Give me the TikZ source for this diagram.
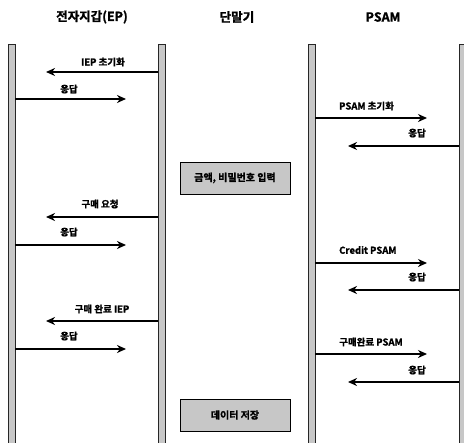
\documentclass[tikz,border=0pt]{standalone}
\usepackage{fontspec}
\setmainfont{Noto Sans CJK KR}[BoldFont={Noto Sans CJK KR Bold},BoldFeatures={FakeBold=1.5}]
\usetikzlibrary{arrows.meta}
\begin{document}
\begin{tikzpicture}[x=1pt,y=-1pt,
  lifebar/.style={draw=black!85,line width=0.9pt,fill=black!22},
  msg/.style={line width=2.6pt,-{Stealth[length=9pt,width=8pt]}},
  lbl/.style={font=\bfseries\fontsize{9.5}{10}\selectfont,inner sep=0pt},
  hdr/.style={font=\bfseries\fontsize{12.5}{14}\selectfont,inner sep=0pt},
  actbox/.style={draw=black,line width=0.9pt,fill=black!22,minimum width=110pt,minimum height=32pt,font=\bfseries\fontsize{10}{11}\selectfont}]
\useasboundingbox (0,0) rectangle (464,443);
% headers
\node[hdr] (h1) at (92,17) {전자지갑(EP)};
\node[hdr] (h2) at (237,17) {단말기};
\node[hdr] (h3) at (383,17) {PSAM};
% lifelines
\path[lifebar] (8,44) rectangle (15,445);
\path[lifebar] (158,44) rectangle (165,445);
\path[lifebar] (308,44) rectangle (315,445);
\path[lifebar] (459,44) rectangle (467,445);
% boxes
\node[actbox] (b1) at (235,178) {금액, 비밀번호 입력};
\node[actbox] (b2) at (235,415) {데이터 저장};
% endpoints
\coordinate (a1s) at (158,72);  \coordinate (a1e) at (46,72);
\coordinate (a2s) at (15,99);   \coordinate (a2e) at (126,99);
\coordinate (a3s) at (315,118); \coordinate (a3e) at (427,118);
\coordinate (a4s) at (459,146); \coordinate (a4e) at (348,146);
\coordinate (a5s) at (158,217); \coordinate (a5e) at (46,217);
\coordinate (a6s) at (15,245);  \coordinate (a6e) at (126,245);
\coordinate (a7s) at (315,263); \coordinate (a7e) at (427,263);
\coordinate (a8s) at (459,290); \coordinate (a8e) at (348,290);
\coordinate (a9s) at (158,321); \coordinate (a9e) at (46,321);
\coordinate (a10s) at (15,349); \coordinate (a10e) at (126,349);
\coordinate (a11s) at (315,354); \coordinate (a11e) at (427,354);
\coordinate (a12s) at (459,382); \coordinate (a12e) at (348,382);
\draw[msg] (a1s) -- (a1e);
\draw[msg] (a2s) -- (a2e);
\draw[msg] (a3s) -- (a3e);
\draw[msg] (a4s) -- (a4e);
\draw[msg] (a5s) -- (a5e);
\draw[msg] (a6s) -- (a6e);
\draw[msg] (a7s) -- (a7e);
\draw[msg] (a8s) -- (a8e);
\draw[msg] (a9s) -- (a9e);
\draw[msg] (a10s) -- (a10e);
\draw[msg] (a11s) -- (a11e);
\draw[msg] (a12s) -- (a12e);
% labels
\node[lbl] (l1) at (103,62) {IEP 초기화};
\node[lbl,anchor=west] (l2) at (60,89) {응답};
\node[lbl,anchor=west] (l3) at (339,106) {PSAM 초기화};
\node[lbl,anchor=east] (l4) at (426,133) {응답};
\node[lbl] (l5) at (100,204) {구매 요청};
\node[lbl,anchor=west] (l6) at (60,232) {응답};
\node[lbl,anchor=west] (l7) at (339,250) {Credit PSAM};
\node[lbl,anchor=east] (l8) at (426,277) {응답};
\node[lbl] (l9) at (102,309) {구매 완료 IEP};
\node[lbl,anchor=west] (l10) at (60,336) {응답};
\node[lbl,anchor=west] (l11) at (339,342) {구매완료 PSAM};
\node[lbl,anchor=east] (l12) at (426,370) {응답};
\end{tikzpicture}
\end{document}
